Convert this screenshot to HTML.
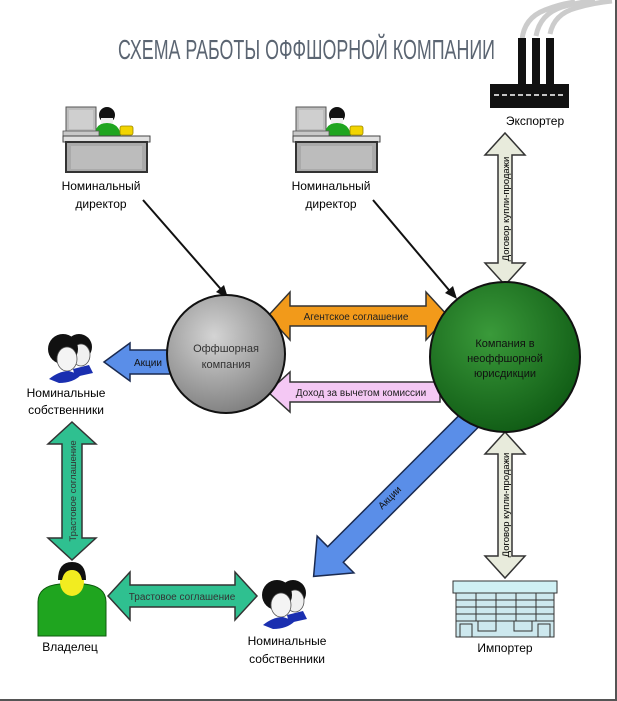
<!DOCTYPE html>
<html><head><meta charset="utf-8"><style>
html,body{margin:0;padding:0;background:#fff;}
svg{display:block;}
text{font-family:"Liberation Sans",sans-serif;}
</style></head><body>
<svg width="617" height="701" viewBox="0 0 617 701" xmlns="http://www.w3.org/2000/svg">
<defs>
<radialGradient id="gg" cx="40%" cy="35%" r="70%"><stop offset="0" stop-color="#d4d4d4"/><stop offset="1" stop-color="#7d7d7d"/></radialGradient>
<radialGradient id="gr" cx="40%" cy="35%" r="70%"><stop offset="0" stop-color="#3a9a3a"/><stop offset="1" stop-color="#0f5a14"/></radialGradient>
<g id="desk">
<rect x="3" y="-4" width="30" height="25" fill="#bdbdbd" stroke="#555" stroke-width="1"/>
<rect x="6" y="-1" width="24" height="19" fill="#cfcfcf"/>
<circle cx="44" cy="4" r="8" fill="#111"/>
<rect x="38" y="7" width="12" height="9" fill="#eee"/>
<path d="M32 25 Q32 12 44 12 Q56 12 58 25 Z" fill="#1fa51f"/>
<rect x="57" y="15" width="13" height="9" rx="2" fill="#f2d400" stroke="#9a8500" stroke-width="0.8"/>
<rect x="0" y="20" width="36" height="6" fill="#c8c8c8" stroke="#555" stroke-width="0.8"/>
<rect x="0" y="25" width="87" height="6" fill="#e0e0e0" stroke="#444" stroke-width="1"/>
<rect x="3" y="31" width="81" height="30" fill="#aaa" stroke="#333" stroke-width="2"/>
<rect x="8" y="35" width="71" height="23" fill="#bcbcbc"/>
</g>
<g id="people">
<circle cx="34" cy="18" r="13" fill="#111"/>
<ellipse cx="36" cy="26" rx="9" ry="11" fill="#f0f0f0" stroke="#555" stroke-width="0.8"/>
<path d="M28 40 L44 36 L48 44 L30 48 Z" fill="#1a2fb0"/>
<circle cx="18" cy="20" r="15" fill="#111"/>
<ellipse cx="22" cy="30" rx="10" ry="12" fill="#f4f4f4" stroke="#555" stroke-width="0.8"/>
<path d="M4 50 Q14 42 24 42 L36 46 Q28 54 14 54 Z" fill="#1a2fb0"/>
</g>
</defs>
<rect x="0" y="0" width="617" height="701" fill="#fff"/>
<line x1="616" y1="0" x2="616" y2="701" stroke="#555" stroke-width="2"/>
<line x1="0" y1="700" x2="617" y2="700" stroke="#555" stroke-width="2"/>

<!-- title -->
<text x="118" y="59" font-size="28" fill="#5b6572" textLength="377" lengthAdjust="spacingAndGlyphs">СХЕМА РАБОТЫ ОФФШОРНОЙ КОМПАНИИ</text>

<!-- factory -->
<path d="M522 40 Q524 18 545 10 Q560 4 575 2" fill="none" stroke="#ccc" stroke-width="5"/>
<path d="M536 36 Q540 14 562 7 Q578 2 595 1" fill="none" stroke="#ccc" stroke-width="5"/>
<path d="M550 34 Q554 14 576 8 Q592 3 612 1" fill="none" stroke="#ccc" stroke-width="5"/>
<rect x="518" y="38" width="8" height="48" fill="#111"/>
<rect x="532" y="38" width="8" height="48" fill="#111"/>
<rect x="546" y="38" width="8" height="48" fill="#111"/>
<rect x="490" y="84" width="79" height="24" fill="#111"/>
<line x1="494" y1="95" x2="565" y2="95" stroke="#fff" stroke-width="1.5" stroke-dasharray="5 3"/>
<text x="535" y="125" text-anchor="middle" font-size="12">Экспортер</text>

<!-- desks -->
<use href="#desk" x="63" y="111"/>
<use href="#desk" x="293" y="111"/>
<text x="101" y="190" text-anchor="middle" font-size="12">Номинальный</text>
<text x="101" y="208" text-anchor="middle" font-size="12">директор</text>
<text x="331" y="190" text-anchor="middle" font-size="12">Номинальный</text>
<text x="331" y="208" text-anchor="middle" font-size="12">директор</text>

<!-- director lines -->
<line x1="143" y1="200" x2="226" y2="295" stroke="#111" stroke-width="2"/>
<path d="M228 298 L216 292 L224 285 Z" fill="#111"/>
<line x1="373" y1="200" x2="454" y2="296" stroke="#111" stroke-width="2"/>
<path d="M457 299 L445 293 L453 286 Z" fill="#111"/>

<!-- exporter arrow -->
<polygon points="505,133 525,155 512,155 512,263 525,263 505,285 485,263 498,263 498,155 485,155" fill="#e8ebdc" stroke="#333" stroke-width="1.5"/>
<text transform="translate(509 209) rotate(-90)" text-anchor="middle" font-size="9.5">Договор купли-продажи</text>
<!-- importer arrow -->
<polygon points="505,432 525,454 512,454 512,556 525,556 505,578 485,556 498,556 498,454 485,454" fill="#e8ebdc" stroke="#333" stroke-width="1.5"/>
<text transform="translate(509 505) rotate(-90)" text-anchor="middle" font-size="9.5">Договор купли-продажи</text>

<!-- diagonal blue arrow -->
<g transform="translate(472 418) rotate(135)">
<polygon points="0,-11 193,-11 193,-26 224,0 193,26 193,11 0,11" fill="#5a8ee8" stroke="#1a2a50" stroke-width="1.5"/>
</g>
<text transform="translate(392 500) rotate(-45)" text-anchor="middle" font-size="10" fill="#111">Акции</text>

<!-- orange -->
<polygon points="268,316 290,292 290,306 426,306 426,292 448,316 426,340 426,326 290,326 290,340" fill="#f29a1a" stroke="#333" stroke-width="1.5"/>
<text x="356" y="320" text-anchor="middle" font-size="10" fill="#222">Агентское соглашение</text>
<!-- pink -->
<polygon points="268,392 290,372 290,382 440,382 440,402 290,402 290,412" fill="#f4c8f4" stroke="#333" stroke-width="1.5"/>
<text x="361" y="396" text-anchor="middle" font-size="10" fill="#222">Доход за вычетом комиссии</text>
<!-- blue left -->
<polygon points="104,362 130,343 130,350 172,350 172,374 130,374 130,381" fill="#5a8ee8" stroke="#1a2a50" stroke-width="1.5"/>
<text x="148" y="366" text-anchor="middle" font-size="10" fill="#111">Акции</text>

<!-- circles -->
<circle cx="226" cy="354" r="59" fill="url(#gg)" stroke="#111" stroke-width="2"/>
<text x="226" y="352" text-anchor="middle" font-size="11" fill="#333">Оффшорная</text>
<text x="226" y="368" text-anchor="middle" font-size="11" fill="#333">компания</text>
<circle cx="505" cy="357" r="75" fill="url(#gr)" stroke="#111" stroke-width="2"/>
<text x="505" y="347" text-anchor="middle" font-size="11" fill="#111">Компания в</text>
<text x="505" y="362" text-anchor="middle" font-size="11" fill="#111">неоффшорной</text>
<text x="505" y="377" text-anchor="middle" font-size="11" fill="#111">юрисдикции</text>

<!-- people 1 -->
<use href="#people" x="45" y="329"/>
<text x="66" y="397" text-anchor="middle" font-size="12">Номинальные</text>
<text x="66" y="414" text-anchor="middle" font-size="12">собственники</text>

<!-- teal vertical -->
<polygon points="72,422 96,444 82,444 82,538 96,538 72,560 48,538 62,538 62,444 48,444" fill="#2fc090" stroke="#333" stroke-width="1.5"/>
<text transform="translate(76 491) rotate(-90)" text-anchor="middle" font-size="9.5" fill="#333">Трастовое соглашение</text>

<!-- owner -->
<path d="M38 636 L38 602 Q38 586 60 584 L84 584 Q106 586 106 602 L106 636 Z" fill="#1fa51f" stroke="#0c5a0c" stroke-width="1"/>
<ellipse cx="72" cy="582" rx="12" ry="14" fill="#f2ec20"/>
<path d="M58 580 Q58 562 72 562 Q86 562 86 580 L82 580 Q80 570 72 570 Q64 570 62 580 Z" fill="#111"/>
<text x="70" y="651" text-anchor="middle" font-size="12">Владелец</text>

<!-- teal horizontal -->
<polygon points="108,596 130,572 130,585 235,585 235,572 257,596 235,620 235,607 130,607 130,620" fill="#2fc090" stroke="#333" stroke-width="1.5"/>
<text x="182" y="600" text-anchor="middle" font-size="10" fill="#333">Трастовое соглашение</text>

<!-- people 2 -->
<use href="#people" x="259" y="575"/>
<text x="287" y="645" text-anchor="middle" font-size="12">Номинальные</text>
<text x="287" y="663" text-anchor="middle" font-size="12">собственники</text>

<!-- importer building -->
<rect x="453" y="581" width="104" height="12" fill="#d0f0f4" stroke="#333" stroke-width="1"/>
<rect x="456" y="593" width="98" height="44" fill="#cde8ee" stroke="#333" stroke-width="1"/>
<g fill="none" stroke="#333" stroke-width="1">
<path d="M456 600 H554 M456 607 H554 M456 614 H554 M456 621 H554"/>
<path d="M476 593 V621 M496 593 V621 M516 593 V621 M536 593 V621"/>
<rect x="460" y="624" width="12" height="13"/><rect x="538" y="624" width="12" height="13"/>
<rect x="478" y="621" width="18" height="10"/><rect x="514" y="621" width="18" height="10"/>
</g>
<text x="505" y="652" text-anchor="middle" font-size="12">Импортер</text>
</svg>
</body></html>
